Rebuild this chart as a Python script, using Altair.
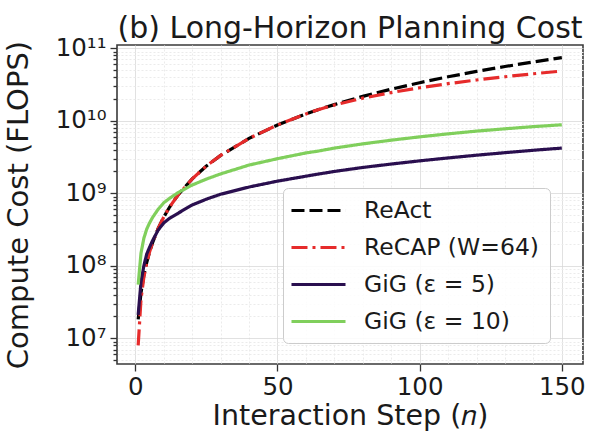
import altair as alt
import pandas as pd

# ---- data ----
steps = [1, 2, 3, 4, 5, 6, 8, 10, 12, 15, 20, 25, 30, 40, 50, 60, 64, 70, 80, 90, 100, 110, 120, 130, 140, 150]
react = [1.82e7, 4.28e7, 7.38e7, 1.11e8, 1.55e8, 2.05e8, 3.25e8, 4.7e8, 6.41e8, 9.45e8, 1.58e9, 2.38e9, 3.33e9,
         5.72e9, 8.75e9, 1.24e10, 1.41e10, 1.67e10, 2.17e10, 2.73e10, 3.35e10, 4.04e10, 4.79e10, 5.6e10, 6.48e10, 7.43e10]
recap = [8.0e6, 3.5e7, 7.0e7, 1.1e8, 1.55e8, 2.05e8, 3.25e8, 4.7e8, 6.41e8, 9.45e8, 1.58e9, 2.38e9, 3.33e9,
         5.72e9, 8.75e9, 1.24e10, 1.41e10, 1.65e10, 2.05e10, 2.45e10, 2.85e10, 3.25e10, 3.65e10, 4.05e10, 4.45e10, 4.85e10]
gig5 = [2.1e7, 6.0e7, 1.0e8, 1.45e8, 1.8e8, 2.2e8, 3.1e8, 3.9e8, 4.5e8, 5.3e8, 6.9e8, 8.3e8, 9.7e8,
        1.22e9, 1.47e9, 1.72e9, 1.83e9, 2.0e9, 2.27e9, 2.53e9, 2.8e9, 3.07e9, 3.35e9, 3.63e9, 3.92e9, 4.2e9]
gig10 = [5.5e7, 1.5e8, 2.4e8, 3.2e8, 3.9e8, 4.6e8, 6.0e8, 7.4e8, 8.5e8, 1.02e9, 1.3e9, 1.57e9, 1.85e9,
         2.45e9, 3.0e9, 3.6e9, 3.8e9, 4.2e9, 4.8e9, 5.4e9, 6.0e9, 6.6e9, 7.2e9, 7.75e9, 8.3e9, 8.8e9]

series_names = ["ReAct", "ReCAP (W=64)", "GiG (ε = 5)", "GiG (ε = 10)"]
series_colors = ["#000000", "#e62b2b", "#2a0f4f", "#80cf5c"]
series_dashes = [[13, 5], [16, 5, 3, 5], [1, 0], [1, 0]]

x_ticks = [0, 10, 20, 30, 40, 50, 60, 70, 80, 90, 100, 110, 120, 130, 140, 150]
y_major = [1e7, 1e8, 1e9, 1e10, 1e11]
y_major_labels = ["10⁷", "10⁸", "10⁹", "10¹⁰", "10¹¹"]
minor_mult = [2, 3, 4, 5, 6, 7, 8, 9]
y_lo, y_hi = 4.42e6, 1.109e11
x_lo, x_hi = -6.45, 157.45

rows = []
for name, vals in zip(series_names, [react, recap, gig5, gig10]):
    for n, v in zip(steps, vals):
        rows.append({"step": n, "cost": v, "series": name})
df = pd.DataFrame(rows)

y_ticks = sorted(set(y_major + [m * d for d in [1e6, 1e7, 1e8, 1e9, 1e10]
                                for m in minor_mult if y_lo <= m * d <= y_hi]))

label_expr = "''"
for v, l in reversed(list(zip(y_major, y_major_labels))):
    label_expr = f"abs(datum.value - {v:.0f}) < 1 ? '{l}' : ({label_expr})"

y_major_test = "abs(log(datum.value)/LN10 - round(log(datum.value)/LN10)) < 0.001"
x_major_test = "datum.value % 50 === 0"

FONT = "DejaVu Sans"
TXT = "#1a1a1a"

legend = alt.Legend(
    orient="none", legendX=166, legendY=143, title=None,
    labelFont=FONT, labelFontSize=23.5, labelColor=TXT, labelOffset=33, labelLimit=400,
    symbolType="M-2.5,0L2.5,0", symbolSize=467, symbolStrokeWidth=3.2, symbolOffset=13,
    padding=10, rowPadding=13,
    fillColor="rgba(255,255,255,0.85)", strokeColor="#cccccc", cornerRadius=5,
)

chart = alt.Chart(df).mark_line(strokeWidth=3.2, clip=True).encode(
    x=alt.X("step:Q", scale=alt.Scale(domain=[x_lo, x_hi], nice=False, zero=False),
            axis=alt.Axis(values=x_ticks, labelExpr="datum.value % 50 === 0 ? datum.value : ''",
                          labelOverlap=False, labelFont=FONT, labelFontSize=24.5, labelColor=TXT,
                          labelPadding=4,
                          tickSize={"condition": {"test": x_major_test, "value": 7}, "value": 0},
                          tickColor="#333", tickWidth=1.3,
                          grid=True,
                          gridColor={"condition": {"test": x_major_test, "value": "#d6d6d6"}, "value": "#ebebeb"},
                          gridDash={"condition": {"test": x_major_test, "value": [1, 0]}, "value": [2, 2]},
                          domain=False,
                          title="Interaction Step (𝑛)", titleFont=FONT, titleFontSize=28.5,
                          titleFontWeight="normal", titleColor=TXT,
                          titleBaseline="alphabetic", titleY=60)),
    y=alt.Y("cost:Q", scale=alt.Scale(type="log", domain=[y_lo, y_hi], nice=False),
            axis=alt.Axis(values=y_ticks, labelExpr=label_expr, labelOverlap=False,
                          labelFont=FONT, labelFontSize=24.5, labelColor=TXT, labelPadding=4,
                          tickSize={"condition": {"test": y_major_test, "value": 7}, "value": 4},
                          tickColor="#333", tickWidth=1.3,
                          grid=True,
                          gridColor={"condition": {"test": y_major_test, "value": "#d6d6d6"}, "value": "#ebebeb"},
                          gridDash={"condition": {"test": y_major_test, "value": [1, 0]}, "value": [2, 2]},
                          domain=False,
                          title="Compute Cost (FLOPS)", titleFont=FONT, titleFontSize=29,
                          titleFontWeight="normal", titleColor=TXT,
                          titleX=-99, titleY=159.5, titleAngle=270,
                          titleAlign="center", titleBaseline="middle")),
    color=alt.Color("series:N", scale=alt.Scale(domain=series_names, range=series_colors), legend=legend),
    strokeDash=alt.StrokeDash("series:N", scale=alt.Scale(domain=series_names, range=series_dashes), legend=legend),
    order=alt.Order("order:Q"),
).transform_calculate(
    order="indexof(" + str(series_names) + ", datum.series) * 1000 + datum.step"
).properties(
    width=466, height=319,
    autosize=alt.AutoSizeParams(type="none"),
    padding={"left": 117, "top": 45, "right": 6, "bottom": 68},
    title=alt.TitleParams("(b) Long-Horizon Planning Cost", font=FONT, fontSize=30,
                          fontWeight="normal", color=TXT, anchor="middle", offset=7, dy=16),
    background="white",
).configure_view(stroke="#3a3a3a", strokeWidth=1.6)

chart.save("out.html", embed_options={"renderer": "svg", "actions": False})
